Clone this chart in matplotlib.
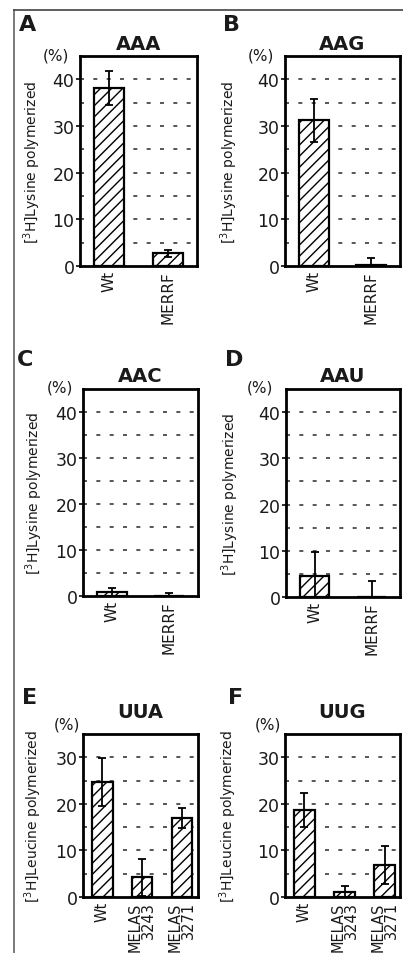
import matplotlib
matplotlib.use("Agg")
import matplotlib.pyplot as plt
from matplotlib.lines import Line2D

# ---------------- data ----------------
panel_letters = ["A", "B", "C", "D", "E", "F"]
codons = ["AAA", "AAG", "AAC", "AAU", "UUA", "UUG"]

lys_groups = ["Wt", "MERRF"]
leu_groups = ["Wt", "MELAS\n3243", "MELAS\n3271"]

aaa_vals = [38.2, 2.7]
aaa_err = [3.6, 0.7]
aag_vals = [31.2, 0.3]
aag_err = [4.6, 1.5]
aac_vals = [0.9, 0.0]
aac_err = [0.8, 0.6]
aau_vals = [4.5, 0.0]
aau_err = [5.3, 3.5]
uua_vals = [24.7, 4.2, 17.0]
uua_err = [5.2, 4.0, 2.2]
uug_vals = [18.7, 1.0, 6.8]
uug_err = [3.6, 1.3, 4.1]

lys_yticks = [0, 10, 20, 30, 40]
lys_grid = [5, 10, 15, 20, 25, 30, 35, 40]
leu_yticks = [0, 10, 20, 30]
leu_grid = [5, 10, 15, 20, 25, 30]

lys_ylabel = r"[$^{3}$H]Lysine polymerized"
leu_ylabel = r"[$^{3}$H]Leucine polymerized"

# ---------------- style ----------------
W, H = 403, 954
DPI = 100
plt.rcParams["font.family"] = ["DejaVu Sans"]
plt.rcParams["hatch.linewidth"] = 1.0
plt.rcParams["mathtext.fontset"] = "dejavusans"
TXT = "#1a1a1a"

fig = plt.figure(figsize=(W / DPI, H / DPI), dpi=DPI)
fig.patch.set_facecolor("white")


def rect(l, r, t, b):
    return [l / W, 1 - b / H, (r - l) / W, (b - t) / H]


panels = [
    dict(box=(80, 197, 57, 267), groups=lys_groups, vals=aaa_vals, err=aaa_err,
         ylim=45, yticks=lys_yticks, grid=lys_grid, ylabel=lys_ylabel, xlim=(-0.5, 1.5),
         letter_xy=(19, 15), pct=(-24, 1), tpad=5, ylab_x=32),
    dict(box=(285, 400, 57, 267), groups=lys_groups, vals=aag_vals, err=aag_err,
         ylim=45, yticks=lys_yticks, grid=lys_grid, ylabel=lys_ylabel, xlim=(-0.5, 1.5),
         letter_xy=(223, 15), pct=(-24, 1), tpad=5, ylab_x=229),
    dict(box=(83, 198, 390, 597), groups=lys_groups, vals=aac_vals, err=aac_err,
         ylim=45, yticks=lys_yticks, grid=lys_grid, ylabel=lys_ylabel, xlim=(-0.5, 1.5),
         letter_xy=(17, 350), pct=(-23, 2), tpad=5.5, ylab_x=34),
    dict(box=(286, 400, 390, 598), groups=lys_groups, vals=aau_vals, err=aau_err,
         ylim=45, yticks=lys_yticks, grid=lys_grid, ylabel=lys_ylabel, xlim=(-0.5, 1.5),
         letter_xy=(225, 350), pct=(-26, 2), tpad=5.5, ylab_x=230),
    dict(box=(83, 198, 735, 898), groups=leu_groups, vals=uua_vals, err=uua_err,
         ylim=35, yticks=leu_yticks, grid=leu_grid, ylabel=leu_ylabel, xlim=(-0.48, 2.4),
         letter_xy=(22, 688), pct=(-16, 10), tpad=12, ylab_x=33),
    dict(box=(285, 400, 735, 898), groups=leu_groups, vals=uug_vals, err=uug_err,
         ylim=35, yticks=leu_yticks, grid=leu_grid, ylabel=leu_ylabel, xlim=(-0.48, 2.38),
         letter_xy=(228, 688), pct=(-17, 10), tpad=12, ylab_x=228),
]

for i, p in enumerate(panels):
    l, r, t, b = p["box"]
    ax = fig.add_axes(rect(l, r, t, b))
    x = list(range(len(p["groups"])))
    ax.bar(x, p["vals"], width=0.52, color="white", edgecolor="black",
           linewidth=1.6, hatch="///", zorder=2)
    ax.errorbar(x, p["vals"], yerr=p["err"], fmt="none", ecolor="black",
                elinewidth=1.3, capsize=3, capthick=1.3, zorder=3)
    for g in p["grid"]:
        ax.axhline(g, color="#3a3a3a", lw=1.2, linestyle=(0, (2.4, 5.6)), zorder=1)
    ax.set_xlim(*p["xlim"])
    ax.set_ylim(0, p["ylim"])
    ax.set_yticks(p["yticks"])
    ax.set_yticklabels([str(v) for v in p["yticks"]], fontsize=12.5, color=TXT)
    ax.tick_params(axis="y", direction="out", length=3, width=1.3, pad=1, colors=TXT)
    ax.set_xticks(x)
    multi = len(p["groups"]) > 2
    ax.set_xticklabels(p["groups"], rotation=90, fontsize=10.5 if multi else 11,
                       color=TXT, linespacing=0.85, multialignment="right")
    ax.tick_params(axis="x", length=0, pad=3)
    for s in ax.spines.values():
        s.set_linewidth(2.0)
        s.set_color("black")
    fig.text(p["ylab_x"] / W, 1 - ((t + b) / 2) / H, p["ylabel"], rotation=90,
             ha="center", va="center", fontsize=10, color=TXT)
    ax.set_title(codons[i], fontsize=14, fontweight="bold", color=TXT, pad=p["tpad"])
    ax.annotate("(%)", xy=(0, 1), xycoords="axes fraction", xytext=p["pct"],
                textcoords="offset pixels", ha="center", va="center",
                fontsize=11, color=TXT)
    lx, ly = p["letter_xy"]
    fig.text(lx / W, 1 - ly / H, panel_letters[i], ha="left", va="top",
             fontsize=16, fontweight="bold", color=TXT)

# scan frame lines (left and top)
fig.add_artist(Line2D([14 / W, 14 / W], [0, 1 - 11 / H], color="#555555", lw=1.1))
fig.add_artist(Line2D([14 / W, 1], [1 - 11 / H, 1 - 11 / H], color="#333333", lw=1.1))

fig.savefig("out.png", dpi=DPI, facecolor="white")
